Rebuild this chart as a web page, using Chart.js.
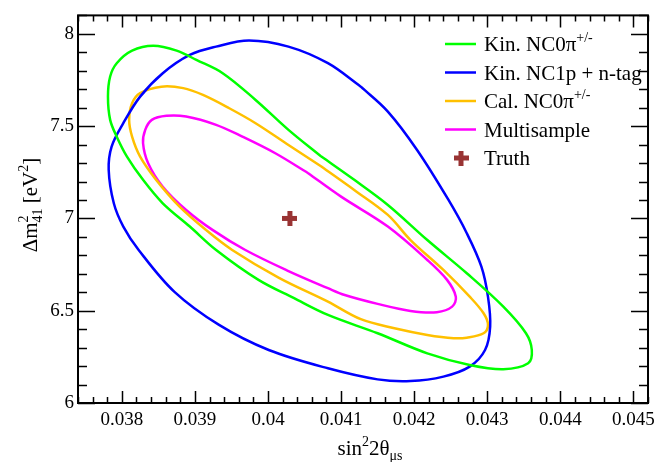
<!DOCTYPE html>
<html>
<head>
<meta charset="utf-8">
<script src="https://cdn.jsdelivr.net/npm/chart.js@4"></script>
<style>
html, body { margin: 0; padding: 0; background: #fff; }
</style>
</head>
<body>
<canvas id="contourChart" width="661" height="462"></canvas>
<script>
// axes
const xRange = [0.0374, 0.0452];
const yRange = [6, 8.1];
const xTicks = [0.038, 0.039, 0.040, 0.041, 0.042, 0.043, 0.044, 0.045];
const xTickLabels = ['0.038', '0.039', '0.04', '0.041', '0.042', '0.043', '0.044', '0.045'];
const yTicks = [6, 6.5, 7, 7.5, 8];
const yTickLabels = ['6', '6.5', '7', '7.5', '8'];
const xMinorStep = 0.0002;
const yMinorStep = 0.1;

// contours
const kinNC0piX = [0.04073, 0.04118, 0.04164, 0.04218, 0.04272, 0.04322, 0.04353, 0.04361, 0.04356, 0.04322, 0.04276,
    0.04218, 0.04150, 0.04082, 0.04035, 0.03987, 0.03929, 0.03893, 0.03856, 0.03829, 0.03807, 0.03793, 0.03784,
    0.03781, 0.03784, 0.03793, 0.03814, 0.03843, 0.03875, 0.03902, 0.03938, 0.03983, 0.04028];
const kinNC0piY = [7.335, 7.209, 7.073, 6.883, 6.703, 6.522, 6.378, 6.287, 6.215, 6.183, 6.206,
    6.269, 6.378, 6.477, 6.569, 6.667, 6.829, 6.956, 7.082, 7.209, 7.335, 7.443, 7.534,
    7.660, 7.769, 7.841, 7.909, 7.935, 7.909, 7.859, 7.787, 7.642, 7.480];

const kinNC1pX = [0.04127, 0.04164, 0.04204, 0.04247, 0.04272, 0.04292, 0.04301, 0.04304, 0.04297, 0.04276, 0.04240,
    0.04195, 0.04150, 0.04082, 0.04001, 0.03933, 0.03872, 0.03823, 0.03802, 0.03789, 0.03782, 0.03786, 0.03802,
    0.03825, 0.03856, 0.03893, 0.03929, 0.03974, 0.04028, 0.04082];
const kinNC1pY = [7.714, 7.579, 7.371, 7.100, 6.920, 6.739, 6.576, 6.414, 6.287, 6.197, 6.143,
    6.119, 6.128, 6.188, 6.287, 6.423, 6.602, 6.829, 6.956, 7.082, 7.263, 7.389, 7.516,
    7.660, 7.787, 7.886, 7.931, 7.964, 7.931, 7.841];

const calNC0piX = [0.04073, 0.04118, 0.04164, 0.04195, 0.04240, 0.04276, 0.04295, 0.04301, 0.04295, 0.04272, 0.04254,
    0.04218, 0.04173, 0.04127, 0.04082, 0.04015, 0.03951, 0.03915, 0.03879, 0.03847, 0.03825, 0.03814, 0.03810,
    0.03814, 0.03825, 0.03854, 0.03884, 0.03911, 0.03947, 0.03983, 0.04028];
const calNC0piY = [7.281, 7.154, 7.019, 6.883, 6.721, 6.576, 6.486, 6.423, 6.378, 6.354, 6.351,
    6.369, 6.405, 6.454, 6.549, 6.678, 6.829, 6.938, 7.064, 7.209, 7.335, 7.443, 7.534,
    7.624, 7.679, 7.714, 7.706, 7.669, 7.597, 7.516, 7.398];

const multiX = [0.04055, 0.04100, 0.04164, 0.04218, 0.04245, 0.04257, 0.04252, 0.04231, 0.04195, 0.04150, 0.04105,
    0.04082, 0.04028, 0.03969, 0.03924, 0.03888, 0.03856, 0.03836, 0.03829, 0.03832, 0.03841, 0.03861, 0.03888,
    0.03929, 0.03965, 0.04010];
const multiY = [7.245, 7.118, 6.956, 6.775, 6.667, 6.576, 6.522, 6.492, 6.499, 6.537, 6.585,
    6.622, 6.715, 6.829, 6.938, 7.046, 7.172, 7.299, 7.408, 7.480, 7.534, 7.556, 7.552,
    7.507, 7.443, 7.353];

const truthX = [0.0403];
const truthY = [7.0];

// legend text, [text, 'sup'|'sub'|'']
const legendLabels = [
    [['Kin. NC0π', ''], ['+/-', 'sup']],
    [['Kin. NC1p + n-tag', '']],
    [['Cal. NC0π', ''], ['+/-', 'sup']],
    [['Multisample', '']],
    [['Truth', '']]
];
const xTitle = [['sin', ''], ['2', 'sup'], ['2θ', ''], ['μs', 'sub']];
const yTitle = [['Δm', ''], ['2', 'supsub'], ['41', 'sub'], [' [eV', ''], ['2', 'sup'], [']', '']];

const SERIF = "'Liberation Serif', 'Times New Roman', serif";
Chart.defaults.font.family = SERIF;

function loop(xs, ys) {
    const pts = xs.map((x, i) => ({ x: x, y: ys[i] }));
    pts.push(pts[0]);
    return pts;
}

// thick plus marker
const crossImg = document.createElement('canvas');
crossImg.width = 15;
crossImg.height = 15;
(function () {
    const c = crossImg.getContext('2d');
    c.fillStyle = '#993333';
    c.fillRect(5, 0, 5, 15);
    c.fillRect(0, 5, 15, 5);
})();

function richWidth(ctx, parts) {
    let w = 0;
    parts.forEach(p => {
        ctx.font = (p[1] ? '14px ' : '21px ') + SERIF;
        if (p[1] === 'supsub') return;
        w += ctx.measureText(p[0]).width;
    });
    return w;
}

function drawRich(ctx, parts, x, y) {
    let cx = x;
    let stackX = null;
    parts.forEach(p => {
        const kind = p[1];
        ctx.font = (kind ? '14px ' : '21px ') + SERIF;
        const w = ctx.measureText(p[0]).width;
        if (kind === 'supsub') {
            // superscript stacked above the following subscript
            ctx.fillText(p[0], cx, y - 9);
            stackX = cx;
            return;
        }
        if (kind === 'sub' && stackX !== null) {
            ctx.fillText(p[0], stackX, y + 5);
            cx = stackX + w;
            stackX = null;
            return;
        }
        ctx.fillText(p[0], cx, y + (kind === 'sup' ? -9 : kind === 'sub' ? 5 : 0));
        cx += w;
    });
}

const decorations = {
    id: 'decorations',
    afterDraw(chart) {
        const ctx = chart.ctx;
        const a = chart.chartArea;
        const xs = chart.scales.x;
        const ys = chart.scales.y;
        ctx.save();
        ctx.strokeStyle = '#000';
        ctx.fillStyle = '#000';

        // ticks inside the frame, all four sides
        ctx.lineWidth = 1.5;
        ctx.beginPath();
        for (let v = Math.ceil(xRange[0] / xMinorStep) * xMinorStep; v <= xRange[1] + 1e-9; v += xMinorStep) {
            const major = xTicks.some(t => Math.abs(t - v) < 1e-7);
            const len = major ? 12 : 6;
            const px = Math.round(xs.getPixelForValue(v)) + 0.5;
            ctx.moveTo(px, a.bottom); ctx.lineTo(px, a.bottom - len);
            ctx.moveTo(px, a.top); ctx.lineTo(px, a.top + len);
        }
        for (let v = yRange[0]; v <= yRange[1] + 1e-9; v += yMinorStep) {
            const major = yTicks.some(t => Math.abs(t - v) < 1e-6);
            const len = major ? 17 : 9;
            const py = Math.round(ys.getPixelForValue(v)) + 0.5;
            ctx.moveTo(a.left, py); ctx.lineTo(a.left + len, py);
            ctx.moveTo(a.right, py); ctx.lineTo(a.right - len, py);
        }
        ctx.stroke();

        // frame
        ctx.lineWidth = 2;
        ctx.strokeRect(a.left, a.top, a.right - a.left, a.bottom - a.top);

        // axis titles
        ctx.textBaseline = 'alphabetic';
        ctx.textAlign = 'left';
        const xw = richWidth(ctx, xTitle);
        drawRich(ctx, xTitle, 370 - xw / 2, 455);

        ctx.save();
        ctx.translate(37, 205);
        ctx.rotate(-Math.PI / 2);
        const yw = richWidth(ctx, yTitle);
        drawRich(ctx, yTitle, -yw / 2, 0);
        ctx.restore();

        // legend
        const rowY = [44, 72.5, 101, 129.5, 158];
        chart.data.datasets.forEach((ds, i) => {
            const y = rowY[i];
            if (ds.showLine) {
                ctx.strokeStyle = ds.borderColor;
                ctx.lineWidth = 2.5;
                ctx.beginPath();
                ctx.moveTo(445, y);
                ctx.lineTo(476, y);
                ctx.stroke();
            } else {
                ctx.drawImage(crossImg, 461 - 7.5, y - 7.5);
            }
            ctx.fillStyle = '#000';
            drawRich(ctx, legendLabels[i], 484, y + 7);
        });
        ctx.restore();
    }
};

const lineDs = (label, xs, ys, color) => ({
    label: label,
    data: loop(xs, ys),
    showLine: true,
    borderColor: color,
    borderWidth: 2.5,
    pointRadius: 0,
    tension: 0.35,
    fill: false
});

new Chart(document.getElementById('contourChart').getContext('2d'), {
    type: 'scatter',
    data: {
        datasets: [
            lineDs('Kin. NC0pi', kinNC0piX, kinNC0piY, '#00ff00'),
            lineDs('Kin. NC1p + n-tag', kinNC1pX, kinNC1pY, '#0000ff'),
            lineDs('Cal. NC0pi', calNC0piX, calNC0piY, '#ffc000'),
            lineDs('Multisample', multiX, multiY, '#ff00ff'),
            {
                label: 'Truth',
                data: truthX.map((x, i) => ({ x: x, y: truthY[i] })),
                showLine: false,
                pointStyle: crossImg,
                pointRadius: 8
            }
        ]
    },
    options: {
        responsive: false,
        animation: false,
        devicePixelRatio: 1,
        layout: { padding: { top: 15, right: 9, left: 0, bottom: 0 } },
        plugins: { legend: { display: false }, tooltip: { enabled: false } },
        scales: {
            x: {
                type: 'linear',
                min: xRange[0],
                max: xRange[1],
                grid: { display: false, drawTicks: false },
                border: { display: false },
                afterBuildTicks: s => { s.ticks = xTicks.map(v => ({ value: v })); },
                afterFit: s => { s.height = 59; },
                ticks: {
                    color: '#000',
                    font: { family: SERIF, size: 19 },
                    padding: 6,
                    maxRotation: 0,
                    autoSkip: false,
                    callback: (v, i) => xTickLabels[i]
                }
            },
            y: {
                type: 'linear',
                min: yRange[0],
                max: yRange[1],
                grid: { display: false, drawTicks: false },
                border: { display: false },
                afterBuildTicks: s => { s.ticks = yTicks.map(v => ({ value: v })); },
                afterFit: s => { s.width = 78; },
                ticks: {
                    color: '#000',
                    font: { family: SERIF, size: 19 },
                    padding: 4,
                    autoSkip: false,
                    callback: (v, i) => yTickLabels[i]
                }
            }
        }
    },
    plugins: [decorations]
});
</script>
</body>
</html>
